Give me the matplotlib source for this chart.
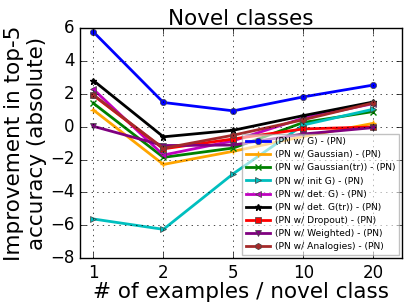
import matplotlib
matplotlib.use("Agg")
import matplotlib.pyplot as plt

plt.style.use("classic")

x_labels = ["1", "2", "5", "10", "20"]
series_names = [
    "(PN w/ G) - (PN)",
    "(PN w/ Gaussian) - (PN)",
    "(PN w/ Gaussian(tr)) - (PN)",
    "(PN w/ init G) - (PN)",
    "(PN w/ det. G) - (PN)",
    "(PN w/ det. G(tr)) - (PN)",
    "(PN w/ Dropout) - (PN)",
    "(PN w/ Weighted) - (PN)",
    "(PN w/ Analogies) - (PN)",
]
g_vals = [5.76, 1.47, 0.96, 1.81, 2.53]
gaussian_vals = [1.01, -2.30, -1.50, -0.60, 0.20]
gaussian_tr_vals = [1.42, -1.87, -1.30, 0.25, 0.92]
init_g_vals = [-5.62, -6.25, -2.86, 0.10, 1.06]
det_g_vals = [2.27, -1.73, -0.86, 0.52, 1.40]
det_g_tr_vals = [2.80, -0.62, -0.22, 0.67, 1.50]
dropout_vals = [1.90, -1.35, -0.75, -0.14, -0.02]
weighted_vals = [0.02, -1.15, -1.12, -0.45, -0.06]
analogies_vals = [1.93, -1.32, -0.52, 0.42, 1.44]

all_vals = [g_vals, gaussian_vals, gaussian_tr_vals, init_g_vals, det_g_vals,
            det_g_tr_vals, dropout_vals, weighted_vals, analogies_vals]
colors = ["b", "#FFA500", "g", "c", "m", "k", "r", "#800080", "#A52A2A"]
markers = ["o", "+", "x", ">", "<", "*", "s", "v", "h"]

fig = plt.figure(figsize=(4.11, 3.08), dpi=100, facecolor="white")
ax = fig.add_axes([0.195, 0.162, 0.783, 0.747])
xs = list(range(len(x_labels)))
for name, vals, c, m in zip(series_names, all_vals, colors, markers):
    filled = m not in ("+", "x", "*")
    ax.plot(xs, vals, color=c, marker=m, markersize=4.5, linewidth=2,
            markeredgecolor="#444444" if filled else c,
            markeredgewidth=0.5 if filled else 1,
            label=name)

ax.set_xticks(xs)
ax.set_xticklabels(x_labels)
ax.set_xlim(-0.19, 4.41)
ax.set_ylim(-8, 6)
ax.set_yticks(range(-8, 7, 2))
ax.tick_params(labelsize=12)
ax.grid(True)
ax.set_title("Novel classes", fontsize=15.5, pad=2)
ax.set_xlabel("# of examples / novel class", fontsize=15.5, labelpad=0)
ax.set_ylabel("Improvement in top-5\naccuracy (absolute)", fontsize=15.5, labelpad=2)
leg = ax.legend(loc="lower right", fontsize=6.6, numpoints=1, handlelength=2.6,
                framealpha=0.6, borderaxespad=0.35, labelspacing=0.45,
                borderpad=0.4, handletextpad=0.5)
leg.get_frame().set_edgecolor("#999999")
fig.savefig("out.png", dpi=100, facecolor="white")
